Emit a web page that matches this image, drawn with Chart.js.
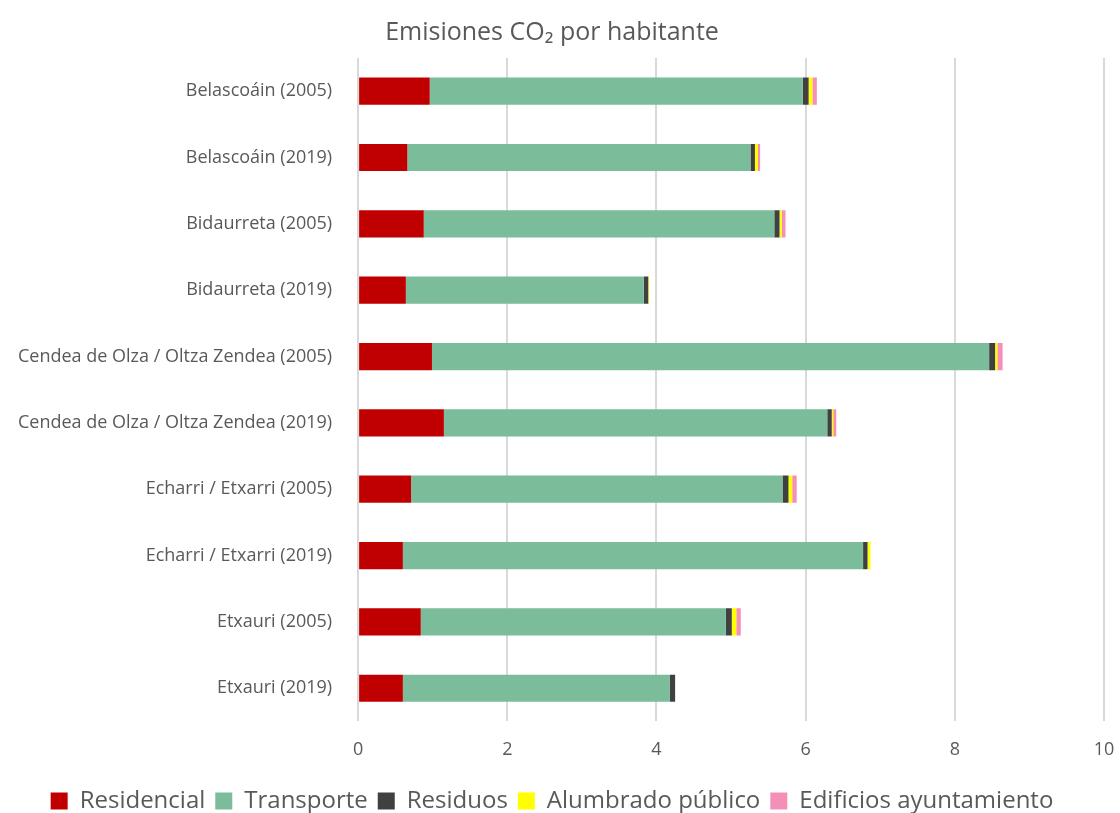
<!DOCTYPE html>
<html>
<head>
<meta charset="utf-8">
<script src="https://cdn.jsdelivr.net/npm/chart.js@4/dist/chart.umd.min.js"></script>
<style>
  html, body { margin: 0; padding: 0; background: #fff; }
  #wrap { width: 1120px; height: 813px; }
</style>
</head>
<body>
<div id="wrap"><canvas id="co2Chart"></canvas></div>
<script>
const categories = [
  "Belascoáin (2005)", "Belascoáin (2019)",
  "Bidaurreta (2005)", "Bidaurreta (2019)",
  "Cendea de Olza / Oltza Zendea (2005)", "Cendea de Olza / Oltza Zendea (2019)",
  "Echarri / Etxarri (2005)", "Echarri / Etxarri (2019)",
  "Etxauri (2005)", "Etxauri (2019)"
];
const residencial = [0.96, 0.66, 0.88, 0.64, 0.99, 1.15, 0.71, 0.60, 0.84, 0.60];
const transporte  = [5.00, 4.60, 4.70, 3.19, 7.47, 5.14, 4.98, 6.17, 4.09, 3.58];
const residuos    = [0.08, 0.06, 0.07, 0.06, 0.08, 0.06, 0.08, 0.06, 0.08, 0.07];
const alumbrado   = [0.05, 0.04, 0.03, 0.01, 0.03, 0.02, 0.05, 0.04, 0.06, 0.00];
const edificios   = [0.06, 0.03, 0.05, 0.00, 0.07, 0.04, 0.06, 0.00, 0.06, 0.00];
const xTicks = [0, 2, 4, 6, 8, 10];

const font = "'Open Sans', 'Liberation Sans', sans-serif";
const grey = "#595959";

function ds(label, data, color) {
  return {
    label, data,
    backgroundColor: color,
    borderWidth: 0,
    barPercentage: 0.82,
    categoryPercentage: 0.5
  };
}

new Chart(document.getElementById("co2Chart"), {
  type: "bar",
  data: {
    labels: categories,
    datasets: [
      ds("Residencial", residencial, "#c00000"),
      ds("Transporte", transporte, "#7bbc9b"),
      ds("Residuos", residuos, "#404040"),
      ds("Alumbrado público", alumbrado, "#ffff00"),
      ds("Edificios ayuntamiento", edificios, "#f48fb8")
    ]
  },
  options: {
    indexAxis: "y",
    responsive: true,
    maintainAspectRatio: false,
    animation: false,
    layout: { padding: { left: 0, right: 16, top: 8, bottom: -10 } },
    plugins: {
      title: {
        display: true,
        text: "Emisiones CO₂ por habitante",
        color: grey,
        font: { family: font, size: 25, weight: "normal" },
        padding: { top: 10, bottom: 10 }
      },
      legend: {
        position: "bottom",
        labels: {
          color: grey,
          font: { family: font, size: 24 },
          boxWidth: 17,
          boxHeight: 17,
          padding: 10
        }
      },
      tooltip: { enabled: false }
    },
    scales: {
      x: {
        stacked: true,
        min: 0,
        max: 10,
        afterBuildTicks: axis => { axis.ticks = xTicks.map(v => ({ value: v })); },
        afterFit: axis => { axis.paddingLeft = 0; axis.paddingRight = 0; },
        grid: { color: "#d9d9d9", lineWidth: 2, drawTicks: false },
        border: { display: false },
        ticks: { color: grey, font: { family: font, size: 18 }, padding: 18 }
      },
      y: {
        stacked: true,
        grid: { display: false },
        border: { display: false },
        ticks: { color: grey, font: { family: font, size: 18 }, padding: 18 }
      }
    }
  }
});
</script>
</body>
</html>
